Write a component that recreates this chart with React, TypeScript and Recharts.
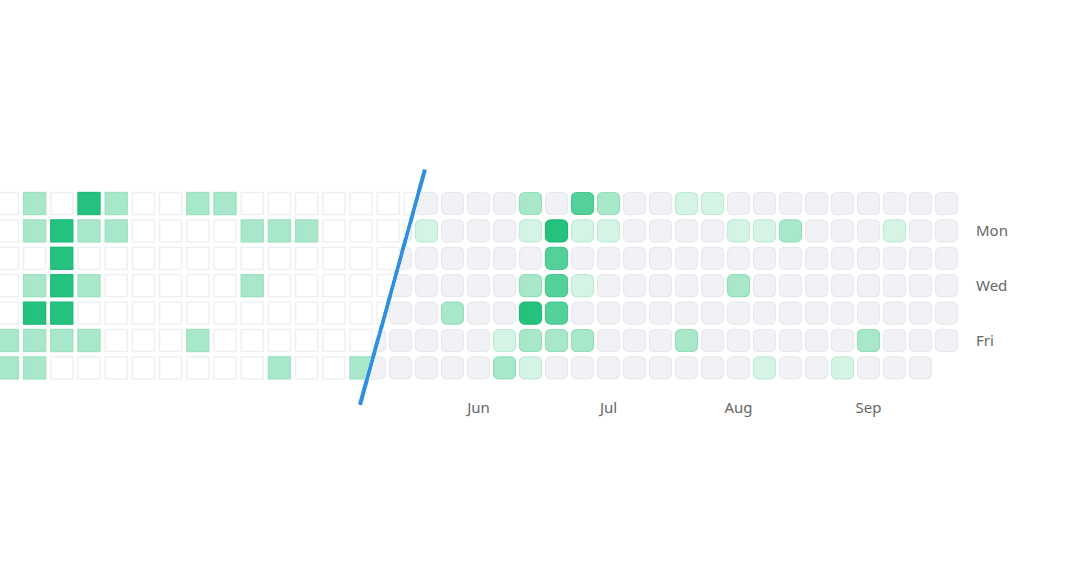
// Contribution heatmap, old square grid vs new rounded grid, split by a diagonal line.

import {
  ReferenceLine,
  Scatter,
  ScatterChart,
  XAxis,
  YAxis,
} from "recharts";

const DAYS = ["Sun", "Mon", "Tue", "Wed", "Thu", "Fri", "Sat"];
const DAY_TICKS = [1, 3, 5];

const MONTH_TICKS = [4, 9, 14, 19];
const MONTH_LABELS = ["Jun", "Jul", "Aug", "Sep"];

// Old (square) grid: one array per weekday, weeks -1..15. 0 empty, 1 light, 2 dark.
const LEFT_FIRST_WEEK = -1;
const LEFT_SUN = [0, 1, 0, 2, 1, 0, 0, 1, 1, 0, 0, 0, 0, 0, 0, 0, 0];
const LEFT_MON = [0, 1, 2, 1, 1, 0, 0, 0, 0, 1, 1, 1, 0, 0, 0, 0, 0];
const LEFT_TUE = [0, 0, 2, 0, 0, 0, 0, 0, 0, 0, 0, 0, 0, 0, 0, 0, 0];
const LEFT_WED = [0, 1, 2, 1, 0, 0, 0, 0, 0, 1, 0, 0, 0, 0, 0, 0, 0];
const LEFT_THU = [0, 2, 2, 0, 0, 0, 0, 0, 0, 0, 0, 0, 0, 0, 0, 0, 0];
const LEFT_FRI = [1, 1, 1, 1, 0, 0, 0, 1, 0, 0, 0, 0, 0, 0, 0, 0, 0];
const LEFT_SAT = [1, 1, 0, 0, 0, 0, 0, 0, 0, 0, 1, 0, 0, 1, 0, 0, 0];

// New (rounded) grid: weeks 0..22, levels 0-4, null = no day yet.
const RIGHT_FIRST_WEEK = 0;
const RIGHT_SUN = [0, 0, 0, 0, 0, 0, 2, 0, 3, 2, 0, 0, 1, 1, 0, 0, 0, 0, 0, 0, 0, 0, 0];
const RIGHT_MON = [0, 0, 1, 0, 0, 0, 1, 4, 1, 1, 0, 0, 0, 0, 1, 1, 2, 0, 0, 0, 1, 0, 0];
const RIGHT_TUE = [0, 0, 0, 0, 0, 0, 0, 3, 0, 0, 0, 0, 0, 0, 0, 0, 0, 0, 0, 0, 0, 0, 0];
const RIGHT_WED = [0, 0, 0, 0, 0, 0, 2, 3, 1, 0, 0, 0, 0, 0, 2, 0, 0, 0, 0, 0, 0, 0, 0];
const RIGHT_THU = [0, 0, 0, 2, 0, 0, 4, 3, 0, 0, 0, 0, 0, 0, 0, 0, 0, 0, 0, 0, 0, 0, 0];
const RIGHT_FRI = [0, 0, 0, 0, 0, 1, 2, 2, 2, 0, 0, 0, 2, 0, 0, 0, 0, 0, 0, 2, 0, 0, 0];
const RIGHT_SAT = [0, 0, 0, 0, 0, 2, 1, 0, 0, 0, 0, 0, 0, 0, 0, 1, 0, 0, 1, 0, 0, 0, null];

// Divider, in week/day units of the new grid.
const SPLIT_LINE = [
  { x: 1.94, y: -1.24 },
  { x: -0.56, y: 7.35 },
];

const LEFT_FILL = ["#ffffff", "#a9e7ca", "#24c27e"];
const LEFT_STROKE = ["#edf0f3", "#9fe2c2", "#22bb79"];
const RIGHT_FILL = ["#f1f2f6", "#d6f4e5", "#a9e7c9", "#54d09a", "#24c27d"];
const RIGHT_STROKE = ["#e7e9ee", "#bdebd4", "#94dfbb", "#45c98f", "#1fb874"];

interface Cell {
  week: number;
  day: number;
  level: number;
}

function buildCells(rows: (number | null)[][], firstWeek: number): Cell[] {
  const cells: Cell[] = [];
  rows.forEach((row, day) => {
    row.forEach((level, i) => {
      if (level === null) return;
      cells.push({ week: firstWeek + i, day, level });
    });
  });
  return cells;
}

const leftCells = buildCells(
  [LEFT_SUN, LEFT_MON, LEFT_TUE, LEFT_WED, LEFT_THU, LEFT_FRI, LEFT_SAT],
  LEFT_FIRST_WEEK,
);
const rightCells = buildCells(
  [RIGHT_SUN, RIGHT_MON, RIGHT_TUE, RIGHT_WED, RIGHT_THU, RIGHT_FRI, RIGHT_SAT],
  RIGHT_FIRST_WEEK,
);

const CELL = 22;
const LINE_WIDTH = 4;

function SquareCell(props: any) {
  const { cx, cy, payload } = props;
  return (
    <rect
      x={cx - CELL / 2}
      y={cy - CELL / 2}
      width={CELL}
      height={CELL}
      fill={LEFT_FILL[payload.level]}
      stroke={LEFT_STROKE[payload.level]}
      strokeWidth={1.4}
      clipPath="url(#split-left)"
    />
  );
}

function RoundCell(props: any) {
  const { cx, cy, payload } = props;
  return (
    <rect
      x={cx - CELL / 2}
      y={cy - CELL / 2}
      width={CELL}
      height={CELL}
      rx={5}
      ry={5}
      fill={RIGHT_FILL[payload.level]}
      stroke={RIGHT_STROKE[payload.level]}
      strokeWidth={1.2}
      clipPath="url(#split-right)"
    />
  );
}

// Draws the divider and the two half-planes it cuts the grids with,
// leaving the line's own width free so the cells don't cover it.
function SplitShape(props: any) {
  const { x1, y1, x2, y2 } = props;
  const xAt = (y: number) => x1 + ((y - y1) * (x2 - x1)) / (y2 - y1);
  const len = Math.hypot(x2 - x1, y2 - y1);
  const half = (LINE_WIDTH / 2) * (len / Math.abs(y2 - y1));
  const top = -2000;
  const bottom = 4000;
  const xa = xAt(top);
  const xb = xAt(bottom);
  return (
    <g>
      <defs>
        <clipPath id="split-left">
          <polygon
            points={`-5000,${top} ${xa - half},${top} ${xb - half},${bottom} -5000,${bottom}`}
          />
        </clipPath>
        <clipPath id="split-right">
          <polygon
            points={`${xa + half},${top} 5000,${top} 5000,${bottom} ${xb + half},${bottom}`}
          />
        </clipPath>
      </defs>
      <line
        x1={x1}
        y1={y1}
        x2={x2}
        y2={y2}
        stroke="#2f8fe0"
        strokeWidth={LINE_WIDTH}
      />
    </g>
  );
}

const tickStyle = { fill: "#666666", fontSize: 15, fontFamily: "Noto Sans" };

export default function App() {
  return (
    <div style={{ position: "absolute", left: 0, top: 0 }}>
      <ScatterChart
        width={1072}
        height={574}
        margin={{ top: 0, right: 0, left: 0, bottom: 149.65 }}
      >
        <XAxis
          xAxisId="right"
          dataKey="week"
          type="number"
          domain={[-14.404, 22.827]}
          ticks={MONTH_TICKS}
          tickFormatter={(v: number) => MONTH_LABELS[MONTH_TICKS.indexOf(v)]}
          interval={0}
          axisLine={false}
          tickLine={false}
          tickSize={0}
          tickMargin={8}
          height={30}
          tick={tickStyle}
        />
        <XAxis
          xAxisId="left"
          dataKey="week"
          type="number"
          orientation="top"
          domain={[-1.272, 34.316]}
          hide
        />
        <YAxis
          dataKey="day"
          type="number"
          orientation="right"
          reversed
          domain={[-7.427, 6.965]}
          ticks={DAY_TICKS}
          tickFormatter={(v: number) => DAYS[v]}
          interval={0}
          axisLine={false}
          tickLine={false}
          tickSize={0}
          tickMargin={8}
          width={104}
          tick={{ ...tickStyle, textAnchor: "start" }}
        />
        <Scatter
          xAxisId="left"
          data={leftCells}
          shape={SquareCell}
          isAnimationActive={false}
        />
        <Scatter
          xAxisId="right"
          data={rightCells}
          shape={RoundCell}
          isAnimationActive={false}
        />
        <ReferenceLine
          xAxisId="right"
          segment={SPLIT_LINE}
          ifOverflow="visible"
          shape={SplitShape}
        />
      </ScatterChart>
    </div>
  );
}
